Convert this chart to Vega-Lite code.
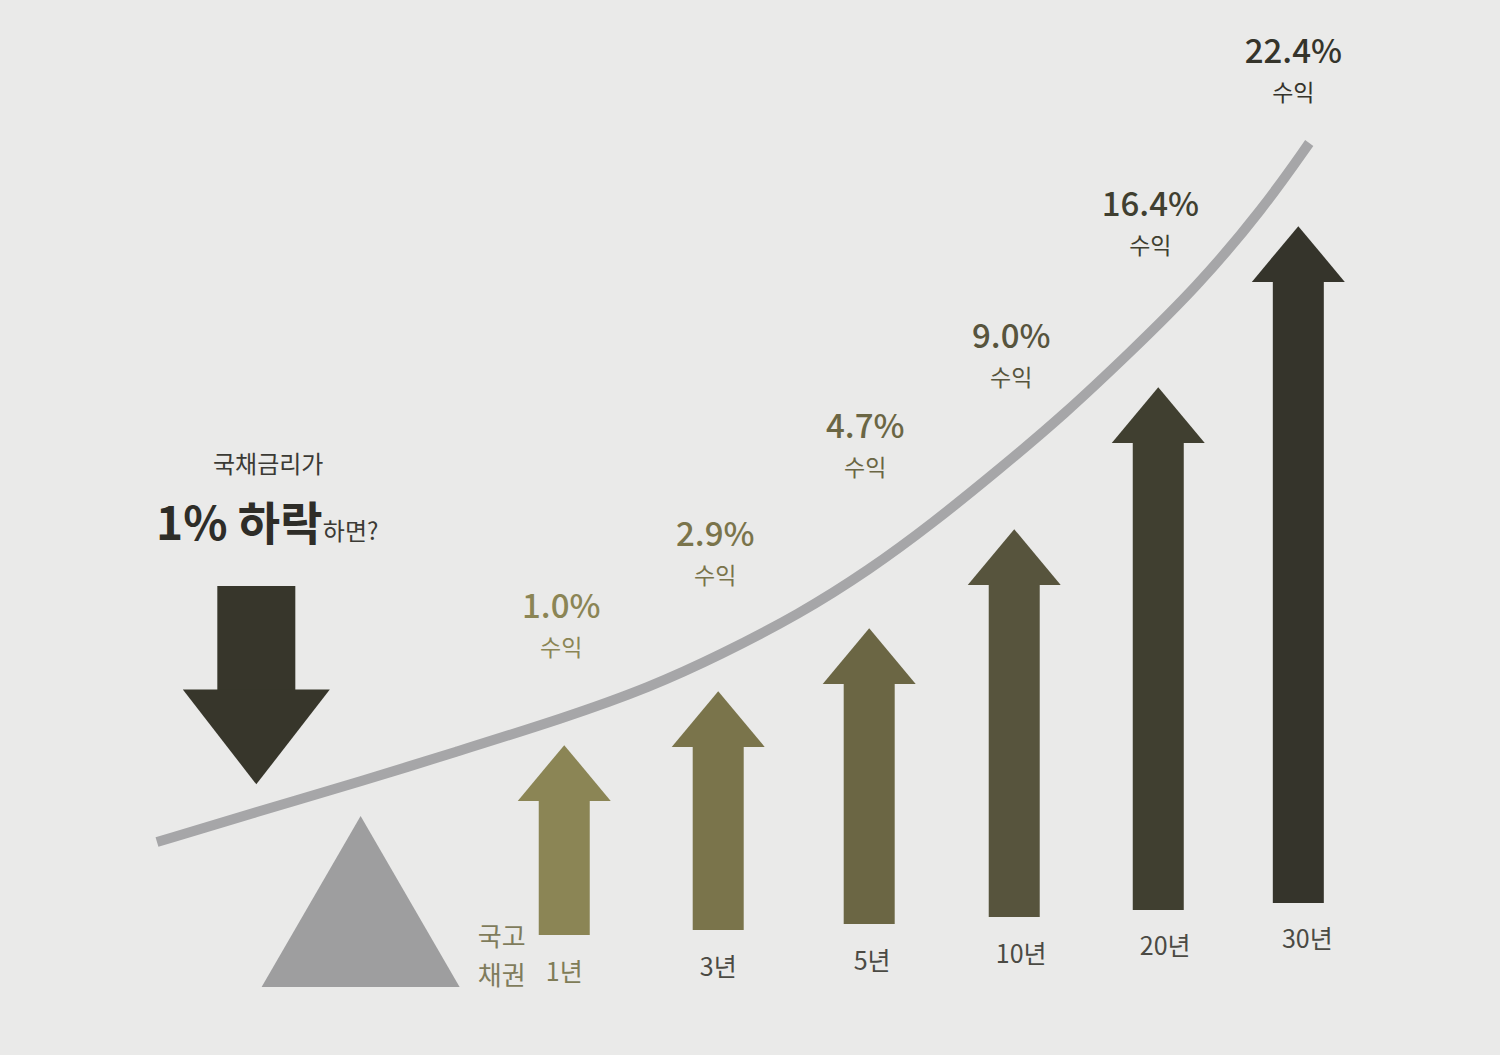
{
"$schema": "https://vega.github.io/schema/vega-lite/v6.json",
"width": 1500,
"height": 1055,
"autosize": {"type": "fit", "contains": "padding"},
"padding": 0,
"background": "#eaeae9",
"config": {"view": {"stroke": null}, "text": {"font": "Noto Sans CJK KR"}},
"datasets": {
  "arrows": [
    {"period": "1년", "pct": 1.0, "x": 563, "tip": 745, "headBase": 800, "bottom": 935, "labelX": 560, "labelY": 608, "catX": 563, "catY": 973},
    {"period": "3년", "pct": 2.9, "x": 718, "tip": 691, "headBase": 746, "bottom": 930, "labelX": 715, "labelY": 536, "catX": 718, "catY": 968},
    {"period": "5년", "pct": 4.7, "x": 870, "tip": 628, "headBase": 683, "bottom": 924, "labelX": 866, "labelY": 428, "catX": 873, "catY": 962},
    {"period": "10년", "pct": 9.0, "x": 1016, "tip": 530, "headBase": 584, "bottom": 917, "labelX": 1013, "labelY": 338, "catX": 1023, "catY": 955},
    {"period": "20년", "pct": 16.4, "x": 1161, "tip": 389, "headBase": 442, "bottom": 910, "labelX": 1153, "labelY": 206, "catX": 1168, "catY": 947},
    {"period": "30년", "pct": 22.4, "x": 1302, "tip": 228, "headBase": 281, "bottom": 903, "labelX": 1297, "labelY": 53, "catX": 1311, "catY": 940}
  ],
  "curve": [
    {"cx": 153, "cy": 842}, {"cx": 250, "cy": 813}, {"cx": 363, "cy": 780}, {"cx": 450, "cy": 753},
    {"cx": 563, "cy": 718}, {"cx": 650, "cy": 687}, {"cx": 720, "cy": 655}, {"cx": 800, "cy": 614},
    {"cx": 870, "cy": 570}, {"cx": 933, "cy": 524}, {"cx": 1000, "cy": 470}, {"cx": 1067, "cy": 414},
    {"cx": 1133, "cy": 352}, {"cx": 1200, "cy": 287}, {"cx": 1267, "cy": 208}, {"cx": 1313, "cy": 143}
  ],
  "down": [{"x": 253, "top": 586, "headBase": 691}],
  "fulcrum": [{"x": 358, "base": 987}],
  "title1": [{"text": "국채금리가", "x": 265, "y": 466}],
  "title2": [{"text": "1% 하락", "x": 152, "y": 540}],
  "title3": [{"text": "하면?", "x": 320, "y": 540}],
  "bond": [{"text": "국고", "x": 500, "y": 938}, {"text": "채권", "x": 500, "y": 977}]
},
"layer": [
  {
    "data": {"name": "curve"},
    "mark": {"type": "line", "interpolate": "basis", "stroke": "#a6a6a8", "strokeWidth": 10},
    "encoding": {
      "x": {"field": "cx", "type": "quantitative", "scale": {"domain": [0, 1500], "nice": false, "zero": false}, "axis": null},
      "y": {"field": "cy", "type": "quantitative", "scale": {"domain": [0, 1055], "nice": false, "zero": false, "reverse": true}, "axis": null}
    }
  },
  {
    "data": {"name": "arrows"},
    "mark": {"type": "bar", "size": 51},
    "encoding": {
      "x": {"field": "x", "type": "quantitative", "scale": {"domain": [0, 1500], "nice": false, "zero": false}, "axis": null},
      "y": {"field": "headBase", "type": "quantitative", "scale": {"domain": [0, 1055], "nice": false, "zero": false, "reverse": true}, "axis": null},
      "y2": {"field": "bottom"},
      "color": {"field": "period", "type": "nominal", "scale": {"domain": ["1년", "3년", "5년", "10년", "20년", "30년"], "range": ["#8b8555", "#7a744b", "#6b6644", "#57543d", "#403f30", "#35342b"]}, "legend": null}
    }
  },
  {
    "data": {"name": "arrows"},
    "mark": {"type": "point", "shape": "M-1,0.02L0,-1.18L1,0.02Z", "size": 8649, "filled": true, "opacity": 1, "strokeWidth": 0},
    "encoding": {
      "x": {"field": "x", "type": "quantitative", "scale": {"domain": [0, 1500], "nice": false, "zero": false}, "axis": null},
      "y": {"field": "headBase", "type": "quantitative", "scale": {"domain": [0, 1055], "nice": false, "zero": false, "reverse": true}, "axis": null},
      "color": {"field": "period", "type": "nominal", "scale": {"domain": ["1년", "3년", "5년", "10년", "20년", "30년"], "range": ["#8b8555", "#7a744b", "#6b6644", "#57543d", "#403f30", "#35342b"]}, "legend": null}
    }
  },
  {
    "data": {"name": "arrows"},
    "transform": [{"calculate": "format(datum.pct, '.1f') + '%'", "as": "pctLabel"}],
    "mark": {"type": "text", "fontSize": 33, "fontWeight": 500, "align": "center", "baseline": "middle"},
    "encoding": {
      "x": {"field": "labelX", "type": "quantitative", "scale": {"domain": [0, 1500], "nice": false, "zero": false}, "axis": null},
      "y": {"field": "labelY", "type": "quantitative", "scale": {"domain": [0, 1055], "nice": false, "zero": false, "reverse": true}, "axis": null},
      "text": {"field": "pctLabel"},
      "color": {"field": "period", "type": "nominal", "scale": {"domain": ["1년", "3년", "5년", "10년", "20년", "30년"], "range": ["#8b8555", "#7a744b", "#6b6644", "#57543d", "#403f30", "#35342b"]}, "legend": null}
    }
  },
  {
    "data": {"name": "arrows"},
    "mark": {"type": "text", "text": "수익", "fontSize": 23, "align": "center", "baseline": "middle", "dy": 41},
    "encoding": {
      "x": {"field": "labelX", "type": "quantitative", "scale": {"domain": [0, 1500], "nice": false, "zero": false}, "axis": null},
      "y": {"field": "labelY", "type": "quantitative", "scale": {"domain": [0, 1055], "nice": false, "zero": false, "reverse": true}, "axis": null},
      "color": {"field": "period", "type": "nominal", "scale": {"domain": ["1년", "3년", "5년", "10년", "20년", "30년"], "range": ["#8b8555", "#7a744b", "#6b6644", "#57543d", "#403f30", "#35342b"]}, "legend": null}
    }
  },
  {
    "data": {"name": "arrows"},
    "mark": {"type": "text", "fontSize": 25, "align": "center", "baseline": "middle"},
    "encoding": {
      "x": {"field": "catX", "type": "quantitative", "scale": {"domain": [0, 1500], "nice": false, "zero": false}, "axis": null},
      "y": {"field": "catY", "type": "quantitative", "scale": {"domain": [0, 1055], "nice": false, "zero": false, "reverse": true}, "axis": null},
      "text": {"field": "period"},
      "color": {"condition": {"test": "datum.period === '1년'", "value": "#807c57"}, "value": "#4b4a44"}
    }
  },
  {
    "data": {"name": "down"},
    "mark": {"type": "bar", "size": 78, "color": "#37362b"},
    "encoding": {
      "x": {"field": "x", "type": "quantitative", "scale": {"domain": [0, 1500], "nice": false, "zero": false}, "axis": null},
      "y": {"field": "top", "type": "quantitative", "scale": {"domain": [0, 1055], "nice": false, "zero": false, "reverse": true}, "axis": null},
      "y2": {"field": "headBase"}
    }
  },
  {
    "data": {"name": "down"},
    "mark": {"type": "point", "shape": "M-1,-0.02L0,1.27L1,-0.02Z", "size": 21609, "filled": true, "opacity": 1, "strokeWidth": 0, "color": "#37362b"},
    "encoding": {
      "x": {"field": "x", "type": "quantitative", "scale": {"domain": [0, 1500], "nice": false, "zero": false}, "axis": null},
      "y": {"field": "headBase", "type": "quantitative", "scale": {"domain": [0, 1055], "nice": false, "zero": false, "reverse": true}, "axis": null}
    }
  },
  {
    "data": {"name": "fulcrum"},
    "mark": {"type": "point", "shape": "M-1,0L0,-1.727L1,0Z", "size": 39204, "filled": true, "opacity": 1, "strokeWidth": 0, "color": "#9e9e9f"},
    "encoding": {
      "x": {"field": "x", "type": "quantitative", "scale": {"domain": [0, 1500], "nice": false, "zero": false}, "axis": null},
      "y": {"field": "base", "type": "quantitative", "scale": {"domain": [0, 1055], "nice": false, "zero": false, "reverse": true}, "axis": null}
    }
  },
  {
    "data": {"name": "title1"},
    "mark": {"type": "text", "fontSize": 24, "align": "center", "baseline": "middle", "color": "#3b3a35"},
    "encoding": {
      "x": {"field": "x", "type": "quantitative", "scale": {"domain": [0, 1500], "nice": false, "zero": false}, "axis": null},
      "y": {"field": "y", "type": "quantitative", "scale": {"domain": [0, 1055], "nice": false, "zero": false, "reverse": true}, "axis": null},
      "text": {"field": "text"}
    }
  },
  {
    "data": {"name": "title2"},
    "mark": {"type": "text", "fontSize": 46, "fontWeight": "bold", "align": "left", "baseline": "alphabetic", "color": "#2e2d28"},
    "encoding": {
      "x": {"field": "x", "type": "quantitative", "scale": {"domain": [0, 1500], "nice": false, "zero": false}, "axis": null},
      "y": {"field": "y", "type": "quantitative", "scale": {"domain": [0, 1055], "nice": false, "zero": false, "reverse": true}, "axis": null},
      "text": {"field": "text"}
    }
  },
  {
    "data": {"name": "title3"},
    "mark": {"type": "text", "fontSize": 24, "align": "left", "baseline": "alphabetic", "color": "#3b3a35"},
    "encoding": {
      "x": {"field": "x", "type": "quantitative", "scale": {"domain": [0, 1500], "nice": false, "zero": false}, "axis": null},
      "y": {"field": "y", "type": "quantitative", "scale": {"domain": [0, 1055], "nice": false, "zero": false, "reverse": true}, "axis": null},
      "text": {"field": "text"}
    }
  },
  {
    "data": {"name": "bond"},
    "mark": {"type": "text", "fontSize": 26, "align": "center", "baseline": "middle", "color": "#7f7c5c"},
    "encoding": {
      "x": {"field": "x", "type": "quantitative", "scale": {"domain": [0, 1500], "nice": false, "zero": false}, "axis": null},
      "y": {"field": "y", "type": "quantitative", "scale": {"domain": [0, 1055], "nice": false, "zero": false, "reverse": true}, "axis": null},
      "text": {"field": "text"}
    }
  }
]
}
